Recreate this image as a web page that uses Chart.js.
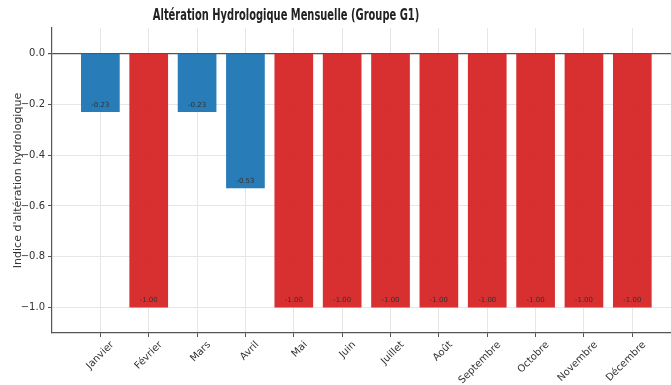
<!DOCTYPE html>
<html>
<head>
<meta charset="utf-8">
<script src="https://cdn.jsdelivr.net/npm/chart.js@4/dist/chart.umd.min.js"></script>
<style>
  html, body { margin: 0; padding: 0; background: #fff; overflow: hidden; }
  #wrap { width: 671px; height: 385px; }
</style>
</head>
<body>
<div id="wrap"><canvas id="myChart"></canvas></div>
<script>
// data
var months = ['Janvier', 'Février', 'Mars', 'Avril', 'Mai', 'Juin',
              'Juillet', 'Août', 'Septembre', 'Octobre', 'Novembre', 'Décembre'];
var values = [-0.23, -1.00, -0.23, -0.53, -1.00, -1.00,
              -1.00, -1.00, -1.00, -1.00, -1.00, -1.00];
var yTicks = [0.0, -0.2, -0.4, -0.6, -0.8, -1.0];

var title = 'Altération Hydrologique Mensuelle (Groupe G1)';
var yTitle = "Indice d'altération hydrologique";

var points = values.map(function (v, i) { return { x: i, y: v }; });
var colors = values.map(function (v) {
  return v <= -0.67 ? 'rgba(214, 39, 40, 0.96)' : 'rgba(31, 119, 180, 0.96)';
});

var fontFam = "'DejaVu Sans', 'Liberation Sans', sans-serif";

// value labels just inside the end of each bar
var valueLabels = {
  id: 'valueLabels',
  afterDatasetsDraw: function (chart) {
    var c = chart.ctx;
    var meta = chart.getDatasetMeta(0);
    c.save();
    c.font = '7px ' + fontFam;
    c.fillStyle = '#333';
    c.textAlign = 'center';
    c.textBaseline = 'middle';
    meta.data.forEach(function (bar, i) {
      c.fillText(values[i].toFixed(2), bar.x, bar.y - 7);
    });
    c.restore();
  }
};

// title, squeezed like the original and centred where it had it
var titlePlugin = {
  id: 'titleText',
  afterDraw: function (chart) {
    var c = chart.ctx;
    c.save();
    c.translate(286, 16);
    c.scale(0.66, 1);
    c.font = "bold 15px " + fontFam;
    c.fillStyle = '#222';
    c.textAlign = 'center';
    c.textBaseline = 'middle';
    c.fillText(title, 0, 0);
    c.restore();
  }
};

var ctx = document.getElementById('myChart').getContext('2d');
var myChart = new Chart(ctx, {
  type: 'bar',
  data: {
    datasets: [{
      label: 'Indice',
      data: points,
      backgroundColor: colors,
      borderWidth: 0,
      barPercentage: 0.8,
      categoryPercentage: 1.0
    }]
  },
  options: {
    responsive: true,
    maintainAspectRatio: false,
    animation: false,
    layout: { padding: { top: 28, left: 0, right: 0, bottom: 0 } },
    plugins: {
      legend: { display: false },
      tooltip: { enabled: false },
      title: { display: false }
    },
    scales: {
      x: {
        type: 'linear',
        min: -1,
        max: 11.8,
        offset: false,
        afterBuildTicks: function (axis) {
          axis.ticks = months.map(function (m, i) { return { value: i }; });
        },
        afterFit: function (axis) { axis.height = 52; },
        ticks: {
          callback: function (v) { return months[v]; },
          minRotation: 45,
          maxRotation: 45,
          autoSkip: false,
          labelOffset: 12,
          padding: 2,
          color: '#333',
          font: { family: fontFam, size: 10 }
        },
        grid: { offset: false, color: '#e6e6e6', lineWidth: 1, tickLength: 4, tickColor: '#555' },
        border: { color: '#555', width: 1.2 }
      },
      y: {
        min: -1.1,
        max: 0.1,
        afterBuildTicks: function (axis) {
          axis.ticks = yTicks.map(function (v) { return { value: v }; });
        },
        afterFit: function (axis) { axis.width = 52; },
        ticks: {
          callback: function (v) {
            var s = Math.abs(v).toFixed(1);
            return v < -0.001 ? '\u2212' + s : s;
          },
          color: '#333',
          padding: 3,
          font: { family: fontFam, size: 10 }
        },
        grid: {
          color: function (c) { return c.tick && Math.abs(c.tick.value) < 1e-9 ? '#555' : '#e6e6e6'; },
          lineWidth: function (c) { return c.tick && Math.abs(c.tick.value) < 1e-9 ? 1.2 : 1; },
          tickLength: 4,
          tickColor: '#555'
        },
        border: { color: '#555', width: 1.2 },
        title: {
          display: true,
          text: yTitle,
          color: '#333',
          padding: { top: 12, bottom: 0 },
          font: { family: fontFam, size: 11 }
        }
      }
    }
  },
  plugins: [valueLabels, titlePlugin]
});
</script>
</body>
</html>
